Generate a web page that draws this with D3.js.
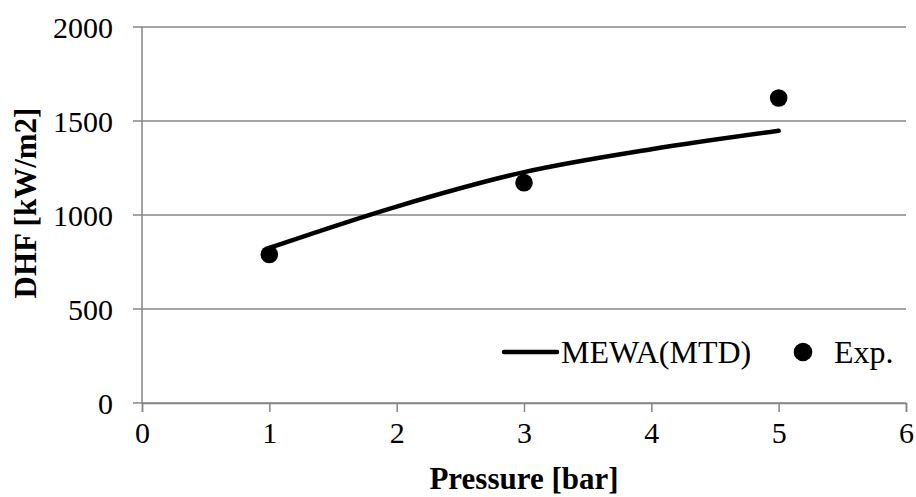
<!DOCTYPE html>
<html>
<head>
<meta charset="utf-8">
<script src="https://cdn.jsdelivr.net/npm/d3@7"></script>
<style>
  body { margin: 0; background: #fff; }
  text { font-family: "Liberation Serif", "Times New Roman", serif; }
</style>
</head>
<body>
<div id="chart"></div>
<script>
// data
var pressure = [1, 2, 3, 4, 5];
var mewa = [825, 1045, 1228, 1350, 1448];
var expPressure = [1, 3, 5];
var expDhf = [790, 1172, 1622];
var xTicks = [0, 1, 2, 3, 4, 5, 6];
var yTicks = [0, 500, 1000, 1500, 2000];

var W = 916, H = 497;
var margin = {top: 27, right: 10, bottom: 94, left: 142},
    width = 906 - margin.left,
    height = 403 - margin.top;

var svg = d3.select("#chart").append("svg")
    .attr("width", W)
    .attr("height", H);

var g = svg.append("g")
    .attr("transform", "translate(" + margin.left + "," + margin.top + ")");

var x = d3.scaleLinear().domain([0, 6]).range([0, width]);
var y = d3.scaleLinear().domain([0, 2000]).range([height, 0]);

var gridColor = "#868686";

// horizontal gridlines, with the little outward tick
g.append("g")
  .selectAll("line")
  .data(yTicks)
  .enter().append("line")
    .attr("x1", -9)
    .attr("x2", width)
    .attr("y1", function(d) { return y(d); })
    .attr("y2", function(d) { return y(d); })
    .attr("stroke", gridColor)
    .attr("stroke-width", 1.5);

// y axis line
g.append("line")
  .attr("x1", 0).attr("x2", 0)
  .attr("y1", 0).attr("y2", height)
  .attr("stroke", gridColor)
  .attr("stroke-width", 1.5);

// x axis
g.append("g")
  .attr("transform", "translate(0," + height + ")")
  .call(d3.axisBottom(x).tickValues(xTicks).tickSize(9).tickPadding(10).tickFormat(d3.format("d")))
  .call(function(a) {
    a.select(".domain").attr("stroke", gridColor).attr("stroke-width", 1.5);
    a.selectAll(".tick line").attr("stroke", gridColor).attr("stroke-width", 1.5);
    a.selectAll("text").attr("font-size", 30).attr("fill", "#000");
  });

// y tick labels
g.append("g")
  .selectAll("text")
  .data(yTicks)
  .enter().append("text")
    .attr("x", -29)
    .attr("y", function(d) { return y(d); })
    .attr("dy", "0.35em")
    .attr("text-anchor", "end")
    .attr("font-size", 30)
    .text(function(d) { return d; });

// model line
var line = d3.line()
  .curve(d3.curveCatmullRom.alpha(0.5))
  .x(function(d, i) { return x(pressure[i]); })
  .y(function(d) { return y(d); });

g.append("path")
  .datum(mewa)
  .attr("fill", "none")
  .attr("stroke", "#000")
  .attr("stroke-width", 4.5)
  .attr("stroke-linecap", "round")
  .attr("d", line);

// experimental points
g.append("g")
  .selectAll("circle")
  .data(expDhf)
  .enter().append("circle")
    .attr("cx", function(d, i) { return x(expPressure[i]); })
    .attr("cy", function(d) { return y(d); })
    .attr("r", 8.8)
    .attr("fill", "#000");

// legend
var leg = svg.append("g").attr("transform", "translate(0,352)");
leg.append("line")
  .attr("x1", 504).attr("x2", 557)
  .attr("y1", 0).attr("y2", 0)
  .attr("stroke", "#000")
  .attr("stroke-width", 4.5)
  .attr("stroke-linecap", "round");
leg.append("text")
  .attr("x", 561).attr("y", 0).attr("dy", "0.35em")
  .attr("font-size", 32)
  .text("MEWA(MTD)");
leg.append("circle")
  .attr("cx", 803).attr("cy", 0).attr("r", 9.3)
  .attr("fill", "#000");
leg.append("text")
  .attr("x", 834).attr("y", 0).attr("dy", "0.35em")
  .attr("font-size", 32)
  .text("Exp.");

// axis titles
svg.append("text")
  .attr("x", 524).attr("y", 489)
  .attr("text-anchor", "middle")
  .attr("font-size", 31)
  .attr("font-weight", "bold")
  .text("Pressure [bar]");

svg.append("text")
  .attr("transform", "translate(36,203) rotate(-90)")
  .attr("text-anchor", "middle")
  .attr("font-size", 31)
  .attr("font-weight", "bold")
  .text("DHF [kW/m2]");
</script>
</body>
</html>
